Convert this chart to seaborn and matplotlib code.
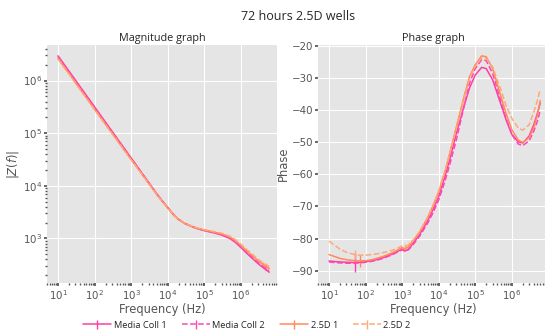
import numpy as np
import pandas as pd
import matplotlib
matplotlib.use("Agg")
import matplotlib.pyplot as plt
import seaborn as sns

# ---------------- data ----------------
freq = [10, 15, 20, 30, 50, 70, 100, 150, 200, 300, 500, 700,
        1000, 1200, 1500, 2000, 3000, 5000, 7000,
        1e4, 1.5e4, 2e4, 3e4, 5e4, 7e4,
        1e5, 1.5e5, 2e5, 3e5, 5e5, 7e5,
        1e6, 1.5e6, 2e6, 3e6, 4e6, 5e6, 6e6]

series_names = ["Media Coll 1", "Media Coll 2", "2.5D 1", "2.5D 2"]

mag_mc1 = [2.95e6, 1.99e6, 1.507e6, 1.016e6, 6.19e5, 4.47e5, 3.16e5, 2.13e5, 1.61e5, 1.09e5, 6.64e4, 4.79e4,
           3.39e4, 2.84e4, 2.29e4, 1.73e4, 1.17e4, 7.11e3, 5.26e3,
           3.89e3, 2.75e3, 2.29e3, 1.91e3, 1.64e3, 1.51e3,
           1.41e3, 1.32e3, 1.26e3, 1.16e3, 1.0e3, 851,
           676, 513, 427, 331, 282, 251, 229]
mag_mc2 = [2.89e6, 1.95e6, 1.48e6, 9.96e5, 6.07e5, 4.38e5, 3.1e5, 2.09e5, 1.58e5, 1.07e5, 6.52e4, 4.71e4,
           3.33e4, 2.8e4, 2.26e4, 1.71e4, 1.16e4, 7.05e3, 5.23e3,
           3.88e3, 2.76e3, 2.31e3, 1.93e3, 1.66e3, 1.53e3,
           1.43e3, 1.34e3, 1.28e3, 1.19e3, 1.03e3, 880,
           703, 535, 447, 348, 298, 267, 247]
mag_25d1 = [2.66e6, 1.79e6, 1.36e6, 9.16e5, 5.59e5, 4.04e5, 2.86e5, 1.94e5, 1.47e5, 1.0e5, 6.14e4, 4.45e4,
            3.18e4, 2.68e4, 2.17e4, 1.65e4, 1.12e4, 6.88e3, 5.12e3,
            3.81e3, 2.72e3, 2.29e3, 1.92e3, 1.66e3, 1.54e3,
            1.44e3, 1.36e3, 1.3e3, 1.22e3, 1.07e3, 920,
            745, 572, 482, 378, 325, 292, 270]
mag_25d2 = [2.56e6, 1.73e6, 1.32e6, 8.9e5, 5.45e5, 3.95e5, 2.8e5, 1.9e5, 1.44e5, 9.85e4, 6.05e4, 4.39e4,
            3.14e4, 2.65e4, 2.15e4, 1.64e4, 1.115e4, 6.86e3, 5.11e3,
            3.8e3, 2.72e3, 2.3e3, 1.93e3, 1.68e3, 1.56e3,
            1.47e3, 1.39e3, 1.34e3, 1.26e3, 1.11e3, 960,
            785, 605, 512, 402, 347, 315, 293]

ph_mc1 = [-87.0, -87.2, -87.3, -87.4, -87.5, -87.4, -87.2, -86.9, -86.6, -86.0, -85.0, -84.2,
          -83.3, -83.9, -83.3, -81.5, -78.8, -74.5, -71.0,
          -67.0, -60.5, -55.5, -47.5, -38.5, -33.0,
          -29.0, -26.6, -27.0, -30.5, -38.0, -43.0,
          -47.5, -49.8, -50.2, -48.0, -44.5, -41.0, -37.8]
ph_mc2 = [-87.3, -87.5, -87.6, -87.7, -87.7, -87.6, -87.4, -87.1, -86.8, -86.2, -85.2, -84.4,
          -83.5, -84.0, -83.5, -81.9, -79.3, -75.2, -72.0,
          -68.0, -62.0, -57.0, -49.5, -38.5, -31.5,
          -27.0, -24.2, -24.5, -28.5, -37.0, -42.5,
          -47.5, -50.5, -51.0, -49.5, -46.5, -43.5, -40.0]
ph_25d1 = [-85.0, -85.7, -86.2, -86.6, -86.9, -87.0, -86.9, -86.6, -86.2, -85.6, -84.6, -83.8,
           -82.8, -83.2, -82.6, -80.8, -78.0, -73.5, -69.8,
           -65.5, -59.0, -53.5, -45.5, -35.5, -29.5,
           -25.8, -23.0, -23.3, -27.0, -35.5, -41.0,
           -46.0, -49.3, -50.0, -48.5, -45.5, -41.5, -37.0]
ph_25d2 = [-80.8, -82.3, -83.3, -84.3, -85.0, -85.2, -85.2, -85.0, -84.8, -84.4, -83.8, -83.2,
           -82.3, -82.6, -82.0, -80.5, -77.8, -73.3, -69.6,
           -65.2, -58.8, -53.5, -46.0, -36.0, -30.0,
           -26.3, -23.6, -23.8, -26.5, -33.5, -38.5,
           -42.5, -45.5, -46.2, -44.5, -40.5, -37.0, -33.4]

# error bars (mostly zero)
err_ph_mc1 = [0, 0, 0, 0, 3.0] + [0] * 33
err_ph_mc2 = [0] * 38
err_ph_25d1 = [0, 0, 0, 0, 0, 2.0] + [0] * 32
err_ph_25d2 = [0, 0, 0, 0, 1.5] + [0] * 8 + [1.0, 1.0] + [0] * 23
err_mag_mc1 = [0] * 38
err_mag_mc2 = [0] * 36 + [12, 0]
err_mag_25d1 = [0] * 36 + [15, 0]
err_mag_25d2 = [0] * 35 + [15, 20, 0]

colors = ["#FF3FA0", "#FF45B8", "#FF8A5C", "#FFA878"]
styles = ["-", "--", "-", "--"]

mags = [mag_mc1, mag_mc2, mag_25d1, mag_25d2]
phases = [ph_mc1, ph_mc2, ph_25d1, ph_25d2]
mag_errs = [err_mag_mc1, err_mag_mc2, err_mag_25d1, err_mag_25d2]
ph_errs = [err_ph_mc1, err_ph_mc2, err_ph_25d1, err_ph_25d2]

# ---------------- style ----------------
sns.set_theme(style="darkgrid", rc={
    "axes.facecolor": "#E5E5E5",
    "grid.color": "white",
    "grid.linewidth": 0.8,
    "xtick.bottom": True,
    "ytick.left": True,
    "xtick.major.size": 2,
    "xtick.minor.size": 1.2,
    "ytick.major.size": 2,
    "ytick.minor.size": 1.2,
    "xtick.color": "#555555",
    "ytick.color": "#555555",
    "xtick.labelcolor": "#555555",
    "ytick.labelcolor": "#555555",
    "axes.labelcolor": "#555555",
    "xtick.major.pad": 1.5,
    "ytick.major.pad": 1.5,
})
plt.rcParams["font.family"] = ["DejaVu Sans"]

fig = plt.figure(figsize=(5.45, 3.35), dpi=100)
ax1 = fig.add_axes([47 / 545, 52 / 335, 230 / 545, 238 / 335])
ax2 = fig.add_axes([318 / 545, 52 / 335, 230 / 545, 238 / 335])

handles = []
for i, name in enumerate(series_names):
    ax1.errorbar(freq, mags[i], yerr=mag_errs[i], color=colors[i], ls=styles[i],
                 lw=1.1, elinewidth=1.0, capsize=0)
    h = ax2.errorbar(freq, phases[i], yerr=ph_errs[i], color=colors[i], ls=styles[i],
                     lw=1.1, elinewidth=1.0, capsize=0, label=name)
    handles.append(h)

for ax in (ax1, ax2):
    ax.set_xscale("log")
    ax.set_xlim(5, 9.8e6)
    ax.tick_params(axis="both", which="major", labelsize=7.4)
    ax.set_xlabel("Frequency (Hz)", fontsize=8.3, labelpad=1)
    ax.grid(True, which="major")
    ax.grid(False, which="minor")
    for s in ax.spines.values():
        s.set_visible(False)

ax1.set_yscale("log")
ax1.set_ylabel("$|Z(f)|$", fontsize=8.3, labelpad=1)
ax2.set_ylabel("Phase", fontsize=8.3, labelpad=1)

ax1.set_title("Magnitude graph", fontsize=7.8, family="Open Sans", pad=3)
ax2.set_title("Phase graph", fontsize=7.8, family="Open Sans", pad=3)
fig.suptitle("72 hours 2.5D wells", fontsize=9, family="Open Sans", x=298 / 545, y=1 - 16 / 335,
             va="center")

fig.legend(handles=handles, labels=series_names, loc="center", ncol=4, frameon=False,
           bbox_to_anchor=(247 / 545, 1 - 325 / 335), prop={"family": "Open Sans", "size": 6.7},
           handlelength=3.0, handletextpad=0.3, columnspacing=1.6)

fig.savefig("out.png", dpi=100)
